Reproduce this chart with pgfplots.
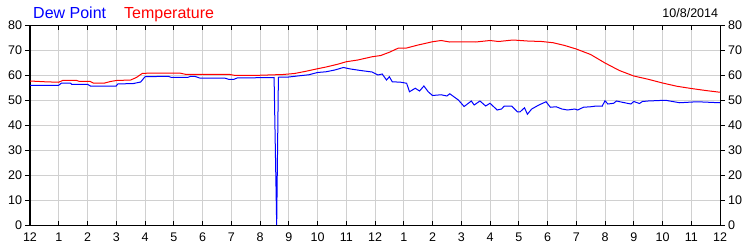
\documentclass[border=0pt]{standalone}
\usepackage{pgfplots}
\pgfplotsset{compat=1.18}
\usepackage{fontspec}
\setmainfont{Liberation Sans}
\definecolor{gridgray}{RGB}{208,208,208}
\begin{document}
\begin{tikzpicture}
\useasboundingbox (0pt,0pt) rectangle (750pt,250pt);
\pgfplotsset{
  commonax/.style={
    at={(30pt,25pt)}, anchor=south west, scale only axis,
    width=690pt, height=200pt,
    xmin=0, xmax=24, ymin=0, ymax=80,
    ytick={0,10,...,80},
    axis line style={black, line width=1pt},
    major tick length=4.5pt,
    tick style={black, line width=1pt},
    /pgf/number format/assume math mode=true,
    tick label style={font=\fontsize{12.5}{14}\selectfont},
    ytick align=outside,
  }
}
\begin{axis}[commonax,
  xtick={0,1,...,24},
  xticklabels={12,1,2,3,4,5,6,7,8,9,10,11,12,1,2,3,4,5,6,7,8,9,10,11,12},
  xtick pos=both, xticklabel pos=lower, xtick align=inside,
  ytick pos=left, yticklabel pos=left,
  grid=major, major grid style={gridgray, line width=1pt},
  xticklabel style={yshift=-4.5pt},
]
\addplot[red, line width=1pt] coordinates {
(0,57.6)(0.5,57.3)(1.0,57.1)(1.15,57.9)(1.6,57.9)(1.7,57.5)(2.1,57.4)(2.2,56.8)(2.6,56.8)(2.8,57.4)(3.0,57.8)(3.5,58.0)(3.7,59.0)(3.9,60.6)(4.2,60.8)(5.2,60.8)(5.4,60.3)(6.9,60.3)(7.1,59.9)(8.0,59.9)(8.8,60.2)(9.2,60.6)(9.6,61.5)(10.0,62.5)(10.3,63.2)(10.7,64.3)(11.0,65.3)(11.4,66.0)(11.9,67.3)(12.2,67.8)(12.5,69.1)(12.8,70.7)(13.1,70.8)(13.5,72.0)(14.0,73.3)(14.3,73.8)(14.6,73.2)(15.0,73.3)(15.5,73.2)(16.0,73.8)(16.3,73.4)(16.8,74.0)(17.3,73.6)(17.8,73.4)(18.2,72.9)(18.6,71.8)(19.0,70.4)(19.5,68.2)(20.0,64.8)(20.5,61.8)(21.0,59.6)(21.5,58.3)(22.0,56.8)(22.5,55.5)(23.0,54.6)(23.5,53.8)(24.0,53.1)
};
\addplot[blue, line width=1pt] coordinates {
(0,55.9)(1.0,55.9)(1.1,56.8)(1.4,56.8)(1.45,56.3)(2.0,56.3)(2.1,55.6)(3.0,55.6)(3.05,56.4)(3.6,56.6)(3.85,57.2)(4.0,59.3)(4.8,59.5)(4.9,59.1)(5.5,59.1)(5.6,59.5)(5.75,59.4)(5.9,58.8)(6.8,58.7)(6.9,58.3)(7.1,58.3)(7.2,58.8)(8.49,59.0)(8.58,0)(8.64,59.1)(9.0,59.2)(9.3,59.6)(9.7,60.1)(10.0,61.0)(10.3,61.3)(10.6,62.0)(10.9,63.0)(11.15,62.4)(11.5,61.8)(11.9,61.2)(12.1,60.0)(12.25,60.4)(12.4,58.0)(12.5,59.3)(12.6,57.3)(12.9,57.1)(13.1,56.7)(13.2,53.3)(13.4,54.7)(13.55,53.6)(13.7,55.6)(13.85,53.3)(14.0,51.8)(14.3,52.1)(14.5,51.6)(14.6,52.5)(14.9,50.0)(15.1,47.4)(15.35,49.6)(15.45,48.0)(15.65,49.6)(15.85,47.6)(16.0,48.7)(16.25,46.0)(16.4,46.4)(16.5,47.6)(16.75,47.6)(16.95,45.3)(17.05,45.3)(17.2,46.9)(17.3,44.3)(17.45,46.4)(17.7,48.0)(17.95,49.3)(18.1,47.1)(18.3,47.3)(18.5,46.4)(18.7,46.0)(18.95,46.4)(19.05,46.0)(19.25,47.1)(19.5,47.3)(19.7,47.6)(19.9,47.5)(20.0,49.7)(20.1,48.4)(20.3,48.7)(20.4,49.6)(20.6,49.1)(20.9,48.4)(21.0,49.4)(21.2,48.6)(21.3,49.4)(21.5,49.6)(22.1,49.9)(22.6,48.9)(23.2,49.3)(24.0,48.9)
};
\end{axis}
\begin{axis}[commonax,
  hide x axis, axis y line*=right,
  ytick pos=right, yticklabel pos=right,
]
\end{axis}
\node[anchor=base west, inner sep=0, text=blue, font=\fontsize{16}{19}\selectfont] at (33pt,231.7pt) {Dew Point};
\node[anchor=base west, inner sep=0, text=red, font=\fontsize{16}{19}\selectfont] at (124pt,231.7pt) {Temperature};
\node[anchor=base east, inner sep=0, font=\fontsize{12.5}{14}\selectfont] at (718.3pt,232.7pt) {10/8/2014};
\end{tikzpicture}
\end{document}
